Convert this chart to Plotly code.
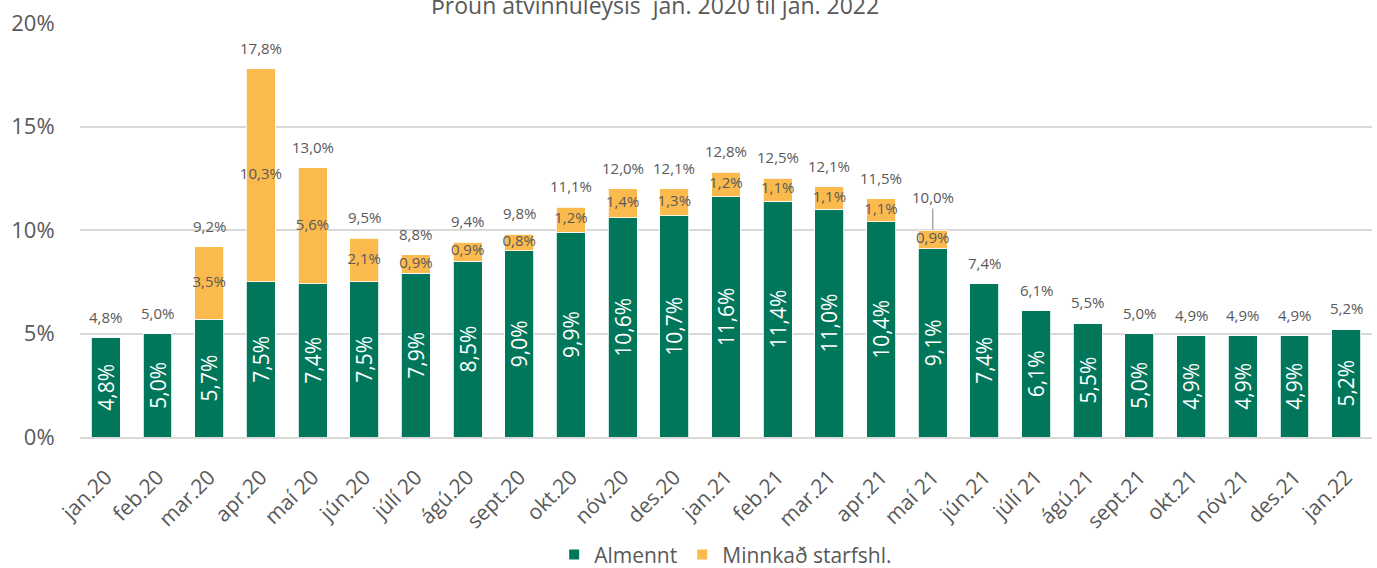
import plotly.graph_objects as go

categories = ["jan.20", "feb.20", "mar.20", "apr.20", "maí 20", "jún.20", "júlí 20", "ágú.20",
              "sept.20", "okt.20", "nóv.20", "des.20", "jan.21", "feb.21", "mar.21", "apr.21",
              "maí 21", "jún.21", "júlí 21", "ágú.21", "sept.21", "okt.21", "nóv.21", "des.21", "jan.22"]
almennt = [4.8, 5.0, 5.7, 7.5, 7.4, 7.5, 7.9, 8.5, 9.0, 9.9, 10.6, 10.7, 11.6, 11.4, 11.0, 10.4,
           9.1, 7.4, 6.1, 5.5, 5.0, 4.9, 4.9, 4.9, 5.2]
minnkad = [0, 0, 3.5, 10.3, 5.6, 2.1, 0.9, 0.9, 0.8, 1.2, 1.4, 1.3, 1.2, 1.1, 1.1, 1.1,
           0.9, 0, 0, 0, 0, 0, 0, 0, 0]
totals = [4.8, 5.0, 9.2, 17.8, 13.0, 9.5, 8.8, 9.4, 9.8, 11.1, 12.0, 12.1, 12.8, 12.5, 12.1, 11.5,
          10.0, 7.4, 6.1, 5.5, 5.0, 4.9, 4.9, 4.9, 5.2]
ytick_vals = [0, 5, 10, 15, 20]
ytick_text = ["0%", "5%", "10%", "15%", "20%"]
title_text = "Þróun atvinnuleysis  jan. 2020 til jan. 2022"

GREEN = "#00775B"
ORANGE = "#FBBA4E"
GRAY = "#595959"
FONT = "Open Sans"

def fmt(v):
    return f"{v:.1f}".replace(".", ",") + "%"

fig = go.Figure()
fig.add_trace(go.Bar(
    name="Almennt", x=categories, y=almennt, marker=dict(color=GREEN, line=dict(color="white", width=0.8)),
    text=[fmt(v) for v in almennt], textposition="inside", insidetextanchor="middle",
    textangle=-90, constraintext="none",
    textfont=dict(family=FONT, size=21, color="white"), width=0.56, hoverinfo="skip",
))
fig.add_trace(go.Bar(
    name="Minnkað starfshl.", x=categories, y=minnkad,
    marker=dict(color=ORANGE, line=dict(color="white", width=0.8)),
    width=0.56, hoverinfo="skip",
))
# labels for orange segments, centered in the segment
ox, oy, ot = [], [], []
for c, a, m in zip(categories, almennt, minnkad):
    if m > 0:
        ox.append(c)
        oy.append(a + m / 2)
        ot.append(fmt(m))
fig.add_trace(go.Scatter(
    x=ox, y=oy, text=ot, mode="text", textposition="middle center",
    textfont=dict(family=FONT, size=15, color=GRAY), showlegend=False, hoverinfo="skip",
))

annotations = []
for c, a, m, t in zip(categories, almennt, minnkad, totals):
    top = a + m
    if c == "maí 21":
        annotations.append(dict(
            x=c, y=top, text=fmt(t), showarrow=True, arrowhead=0, arrowwidth=1.5,
            arrowcolor="#A6A6A6", ax=0, ay=-33, standoff=0,
            font=dict(family=FONT, size=15, color=GRAY),
        ))
    else:
        annotations.append(dict(
            x=c, y=top, text=fmt(t), showarrow=False, yanchor="middle", yshift=21,
            font=dict(family=FONT, size=15, color=GRAY),
        ))
annotations.append(dict(
    xref="paper", yref="paper", x=0.4447, y=1, yanchor="middle", yshift=18,
    text=title_text, showarrow=False, font=dict(family=FONT, size=23, color=GRAY),
))

fig.update_layout(
    barmode="stack",
    width=1377, height=568,
    margin=dict(l=80, r=5, t=23, b=130.5, autoexpand=False),
    paper_bgcolor="white", plot_bgcolor="white",
    font=dict(family=FONT, color=GRAY),
    bargap=0.44,
    annotations=annotations,
    legend=dict(orientation="h", xref="container", x=0.527, xanchor="center",
                yref="container", y=0.023, yanchor="middle", itemwidth=30,
                traceorder="normal", font=dict(family=FONT, size=21, color=GRAY),
                itemsizing="constant"),
    hovermode=False,
)
fig.update_xaxes(
    type="category", tickangle=-45, tickfont=dict(family=FONT, size=21, color=GRAY),
    showgrid=False, showline=True, linecolor="#D9D9D9", linewidth=1.5,
    ticks="outside", ticklen=18, tickcolor="rgba(0,0,0,0)", automargin=False,
)
fig.update_yaxes(
    range=[0, 20], tickvals=ytick_vals, ticktext=ytick_text,
    tickfont=dict(family=FONT, size=22, color=GRAY),
    showgrid=True, gridcolor="#D9D9D9", gridwidth=1.5, zeroline=False,
    ticks="outside", ticklen=20, tickcolor="rgba(0,0,0,0)", automargin=False,
)

fig.write_html("out.html", config={"displayModeBar": False},
               post_script="document.body.style.margin='0';document.body.style.overflow='hidden';")
